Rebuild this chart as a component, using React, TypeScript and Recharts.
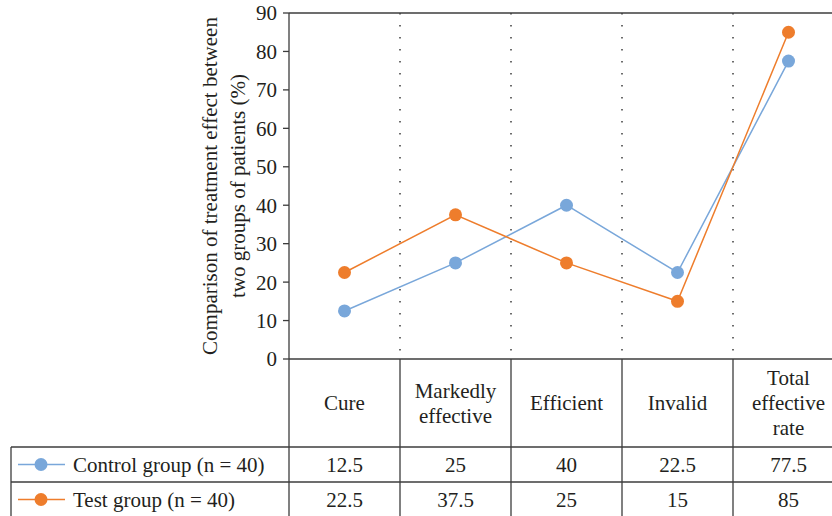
import { LineChart, Line, XAxis, YAxis, CartesianGrid, ReferenceLine } from 'recharts'

const CATEGORIES = ['Cure', 'Markedly\neffective', 'Efficient', 'Invalid', 'Total\neffective\nrate']
const CONTROL = [12.5, 25, 40, 22.5, 77.5]
const TEST = [22.5, 37.5, 25, 15, 85]
const Y_TICKS = [0, 10, 20, 30, 40, 50, 60, 70, 80, 90]
const SERIES = [
  { key: 'control', name: 'Control group (n = 40)', color: '#79a7da', values: CONTROL },
  { key: 'test', name: 'Test group (n = 40)', color: '#ee7d2c', values: TEST },
]

const DATA = CATEGORIES.map((cat, i) => ({ cat, control: CONTROL[i], test: TEST[i] }))

const FONT = "'Liberation Serif', 'DejaVu Serif', serif"
const FS = 21
const INK = '#3c3c3c'
const TEXT = '#231f20'
const CHART_W = 844
const CHART_H = 516
const Y_W = 289
const TOP = 13
const X_H = 157
const BAND = (CHART_W - Y_W) / CATEGORIES.length
const HEADER_H = 88
const ROW_H = 35
const TABLE_LEFT = 11

function TableTick(props: any) {
  const { x, y, index } = props
  const left = x - BAND / 2
  const right = x + BAND / 2
  const lines = CATEGORIES[index].split('\n')
  const lh = 25
  const headMid = y + HEADER_H / 2
  const r1 = y + HEADER_H
  const r2 = r1 + ROW_H
  const r3 = r2 + ROW_H
  return (
    <g fontFamily={FONT} fontSize={FS} fill={TEXT}>
      {lines.map((l, k) => (
        <text key={k} x={x} y={headMid + (k - (lines.length - 1) / 2) * lh} textAnchor="middle" dominantBaseline="central">
          {l}
        </text>
      ))}
      {SERIES.map((s, k) => (
        <text key={s.key} x={x} y={r1 + ROW_H * k + ROW_H / 2} textAnchor="middle" dominantBaseline="central">
          {s.values[index]}
        </text>
      ))}
      <line x1={right} x2={right} y1={y} y2={r3} stroke={INK} strokeWidth={1.3} />
      {index === 0 && <line x1={left} x2={left} y1={y} y2={r3} stroke={INK} strokeWidth={1.3} />}
      <line x1={left} x2={right} y1={r1} y2={r1} stroke={INK} strokeWidth={1.3} />
      <line x1={left} x2={right} y1={r2} y2={r2} stroke={INK} strokeWidth={1.3} />
      {index === 0 && (
        <g>
          <line x1={TABLE_LEFT} x2={left} y1={r1} y2={r1} stroke={INK} strokeWidth={1.3} />
          <line x1={TABLE_LEFT} x2={left} y1={r2} y2={r2} stroke={INK} strokeWidth={1.3} />
          <line x1={TABLE_LEFT} x2={TABLE_LEFT} y1={r1} y2={r3} stroke={INK} strokeWidth={1.3} />
          {SERIES.map((s, k) => {
            const cy = r1 + ROW_H * k + ROW_H / 2
            return (
              <g key={s.key}>
                <line x1={TABLE_LEFT + 7} x2={TABLE_LEFT + 54} y1={cy} y2={cy} stroke={s.color} strokeWidth={1.5} />
                <circle cx={TABLE_LEFT + 30} cy={cy} r={6.5} fill={s.color} />
                <text x={TABLE_LEFT + 62} y={cy} dominantBaseline="central" textAnchor="start">
                  {s.name}
                </text>
              </g>
            )
          })}
        </g>
      )}
    </g>
  )
}

function AxisTitle(props: any) {
  const { viewBox } = props
  const cy = viewBox.y + viewBox.height / 2
  const lines = ['Comparison of treatment effect between', 'two groups of patients (%)']
  const xs = [210, 238]
  return (
    <g fontFamily={FONT} fontSize={FS} fill={TEXT}>
      {lines.map((l, k) => (
        <text key={k} x={xs[k]} y={cy} textAnchor="middle" dominantBaseline="central" transform={`rotate(-90 ${xs[k]} ${cy})`}>
          {l}
        </text>
      ))}
    </g>
  )
}

export default function App() {
  return (
    <div style={{ position: 'absolute', left: 0, top: 0, width: 832, height: 516, overflow: 'hidden', background: '#fff' }}>
      <LineChart width={CHART_W} height={CHART_H} data={DATA} margin={{ top: TOP, right: 0, bottom: 0, left: 0 }}>
        <CartesianGrid
          horizontal={false}
          stroke="#1e1e1e"
          strokeWidth={1.3}
          strokeDasharray="1.5 10.5"
          verticalCoordinatesGenerator={({ offset }: any) =>
            CATEGORIES.slice(1).map((_, i) => offset.left + BAND * (i + 1))
          }
        />
        <ReferenceLine y={90} stroke={INK} strokeWidth={1.3} />
        <XAxis dataKey="cat" scale="band" interval={0} height={X_H} tickLine={false} tickSize={0} tickMargin={0} axisLine={{ stroke: INK, strokeWidth: 1.3 }} tick={<TableTick />} />
        <YAxis
          width={Y_W}
          domain={[0, 90]}
          ticks={Y_TICKS}
          interval={0}
          tickSize={6}
          tickMargin={6}
          axisLine={{ stroke: INK, strokeWidth: 1.3 }}
          tickLine={{ stroke: INK, strokeWidth: 1.3 }}
          tick={{ fontFamily: FONT, fontSize: FS, fill: TEXT }}
          label={<AxisTitle />}
        />
        {SERIES.map((s) => (
          <Line
            key={s.key}
            dataKey={s.key}
            name={s.name}
            stroke={s.color}
            strokeWidth={1.5}
            dot={{ r: 6.5, fill: s.color, stroke: s.color, strokeWidth: 0 }}
            activeDot={false}
            isAnimationActive={false}
          />
        ))}
      </LineChart>
    </div>
  )
}
